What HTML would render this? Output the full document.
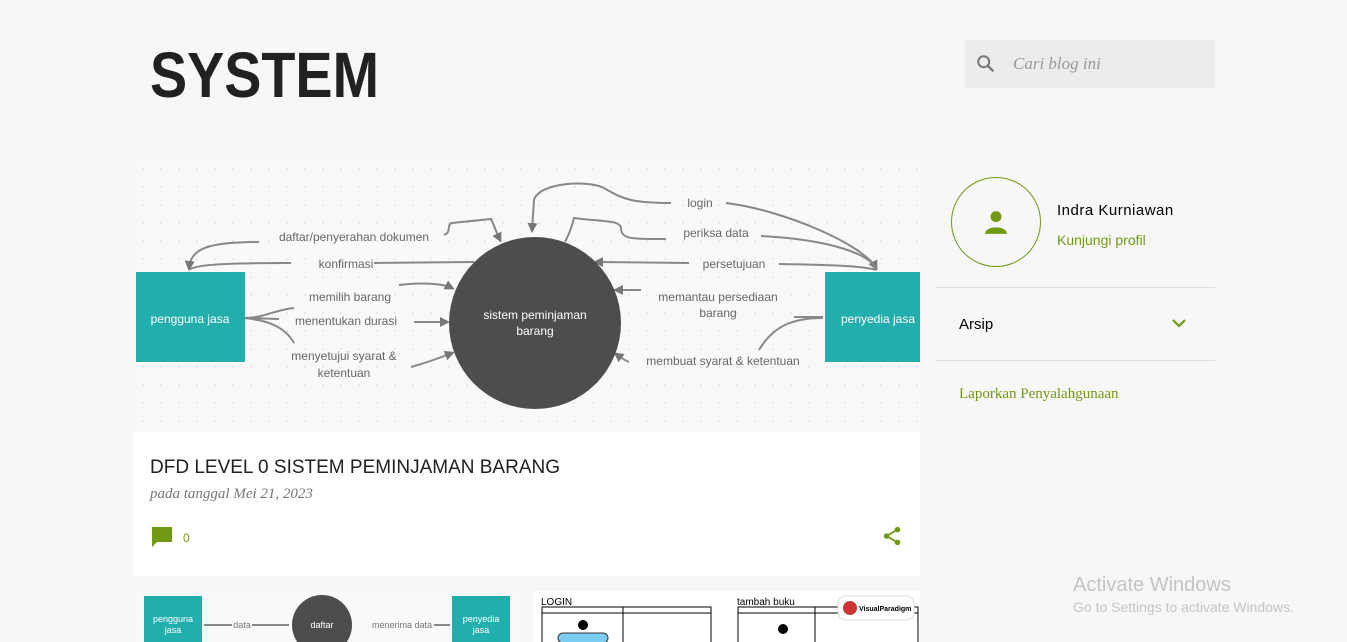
<!DOCTYPE html>
<html><head><meta charset="utf-8"><style>
*{margin:0;padding:0;box-sizing:border-box}
body{width:1347px;height:642px;overflow:hidden;background:#f7f7f7;font-family:"Liberation Sans",sans-serif;position:relative}
.abs{position:absolute}
</style></head><body>
<div class="abs" style="left:150px;top:38px;font-size:64px;font-weight:bold;color:#212121;transform:scaleX(0.87);transform-origin:left top">SYSTEM</div>
<div class="abs" style="left:965px;top:40px;width:250px;height:48px;background:#ececec"></div>
<svg class="abs" style="left:975px;top:53px" width="22" height="22" viewBox="0 0 24 24"><circle cx="9.5" cy="9.5" r="6" fill="none" stroke="#777" stroke-width="2.2"/><line x1="14" y1="14" x2="20" y2="20" stroke="#777" stroke-width="2.6"/></svg>
<div class="abs" style="left:1013px;top:54px;font-family:'Liberation Serif',serif;font-style:italic;font-size:17px;color:#999">Cari blog ini</div>

<div class="abs" style="left:134px;top:160px;width:786px;height:416px;background:#fff"></div>
<svg class="abs" style="left:134px;top:160px" width="786" height="272" viewBox="0 0 786 272" font-family="Liberation Sans, sans-serif">
<defs><pattern id="d" width="18" height="18" patternUnits="userSpaceOnUse"><circle cx="9" cy="9" r="0.9" fill="#ddd"/></pattern>
<marker id="a" markerWidth="10" markerHeight="10" refX="7" refY="5" orient="auto" markerUnits="userSpaceOnUse"><path d="M0,0 L10,5 L0,10z" fill="#777"/></marker></defs>
<rect width="786" height="272" fill="#f9f9fb"/><rect width="786" height="272" fill="url(#d)"/>
<g fill="none" stroke="#888" stroke-width="2">
<path d="M125,82 C75,82 57,88 55,108" marker-end="url(#a)"/>
<path d="M157,103 C100,103 60,104 55,110"/>
<path d="M240,103 L340,102"/>
<path d="M310,75 C318,72 312,65 318,63 L357,59 C360,65 362,72 366,80" marker-end="url(#a)"/>
<path d="M537,43 C500,43 490,40 470,28 C455,20 405,22 400,40 L398,70" marker-end="url(#a)"/>
<path d="M592,43 C650,50 730,85 742,108" marker-end="url(#a)"/>
<path d="M532,79 C500,79 487,80 487,68 C486,60 470,62 440,58 C437,70 434,76 431,82"/>
<path d="M627,76 C700,80 735,95 742,108"/>
<path d="M555,103 L462,102" marker-end="url(#a)"/>
<path d="M645,104 C700,105 730,106 742,110"/>
<path d="M265,125 C290,122 310,124 318,128" marker-end="url(#a)"/>
<path d="M280,162 L313,162" marker-end="url(#a)"/>
<path d="M277,207 C295,202 308,197 318,193" marker-end="url(#a)"/>
<path d="M110,158 C130,158 140,150 160,148"/>
<path d="M110,158 C130,160 150,165 160,183"/>
<path d="M110,158 L145,159"/>
<path d="M507,130 L482,130" marker-end="url(#a)"/>
<path d="M495,202 C490,200 486,197 482,194" marker-end="url(#a)"/>
<path d="M689,158 C660,158 640,165 625,190"/>
<path d="M689,157 L660,157"/>
</g>
<rect x="2" y="112" width="109" height="90" fill="#22aead"/>
<rect x="691" y="112" width="95" height="90" fill="#22aead"/>
<ellipse cx="401" cy="163" rx="86" ry="86" fill="#4d4d4d"/>
<g fill="#fff" font-size="12" text-anchor="middle"><text x="56" y="163">pengguna jasa</text><text x="744" y="163">penyedia jasa</text>
<text x="401" y="159">sistem peminjaman</text><text x="401" y="175">barang</text></g>
<g fill="#666" font-size="12" text-anchor="middle">
<text x="220" y="81">daftar/penyerahan dokumen</text><text x="212" y="108">konfirmasi</text>
<text x="566" y="47">login</text><text x="582" y="77">periksa data</text><text x="600" y="108">persetujuan</text>
<text x="216" y="141">memilih barang</text><text x="212" y="165">menentukan durasi</text>
<text x="210" y="200">menyetujui syarat &amp;</text><text x="210" y="217">ketentuan</text>
<text x="584" y="141">memantau persediaan</text><text x="584" y="157">barang</text>
<text x="589" y="205">membuat syarat &amp; ketentuan</text></g>
</svg>
<div class="abs" style="left:150px;top:457px;font-size:19px;color:#212121">DFD LEVEL 0 SISTEM PEMINJAMAN BARANG</div>
<div class="abs" style="left:150px;top:486px;font-family:'Liberation Serif',serif;font-style:italic;font-size:15px;color:#777">pada tanggal Mei 21, 2023</div>
<svg class="abs" style="left:151px;top:526px" width="24" height="24" viewBox="0 0 24 24"><path d="M1,1 H21 V16 H6 L1,21z" fill="#6f9a12"/></svg>
<div class="abs" style="left:183px;top:531px;font-size:12px;color:#6f9a12">0</div>
<svg class="abs" style="left:881px;top:525px" width="22" height="22" viewBox="0 0 24 24"><g fill="#6f9a12"><circle cx="18" cy="5" r="3"/><circle cx="6" cy="12" r="3"/><circle cx="18" cy="19" r="3"/></g><path d="M6,12 L18,5 M6,12 L18,19" stroke="#6f9a12" stroke-width="2"/></svg>

<svg class="abs" style="left:134px;top:591px" width="385" height="51" font-family="Liberation Sans, sans-serif">
<rect width="385" height="51" fill="#f9f9fb"/>
<rect x="10" y="5" width="58" height="46" fill="#22aead"/><rect x="318" y="5" width="58" height="46" fill="#22aead"/>
<circle cx="188" cy="34" r="30" fill="#4d4d4d"/>
<path d="M70,34 H98 M118,34 H155 M300,34 H316" stroke="#888" stroke-width="2"/>
<g font-size="9" text-anchor="middle"><text x="39" y="31" fill="#fff">pengguna</text><text x="39" y="42" fill="#fff">jasa</text><text x="347" y="31" fill="#fff">penyedia</text><text x="347" y="42" fill="#fff">jasa</text><text x="188" y="37" fill="#fff">daftar</text><text x="108" y="37" fill="#777">data</text><text x="268" y="37" fill="#777">menerima data</text></g></svg>
<svg class="abs" style="left:534px;top:591px" width="386" height="51" font-family="Liberation Sans, sans-serif">
<rect width="386" height="51" fill="#fff"/>
<text x="7" y="14" font-size="10">LOGIN</text><text x="203" y="14" font-size="10">tambah buku</text>
<rect x="8" y="16" width="169" height="40" fill="none" stroke="#000"/><line x1="89" y1="16" x2="89" y2="51" stroke="#000"/><line x1="8" y1="22" x2="177" y2="22" stroke="#000"/>
<rect x="204" y="16" width="180" height="40" fill="none" stroke="#000"/><line x1="281" y1="16" x2="281" y2="51" stroke="#000"/><line x1="204" y1="22" x2="384" y2="22" stroke="#000"/>
<circle cx="49" cy="34" r="5"/><rect x="24" y="42" width="50" height="10" rx="5" fill="#7ccdf2" stroke="#333"/>
<circle cx="249" cy="38" r="5"/>
<rect x="304" y="5" width="76" height="24" rx="8" fill="#fff" stroke="#ddd"/><circle cx="316" cy="17" r="7" fill="#c33"/><text x="325" y="20" font-size="7" font-weight="bold">VisualParadigm</text></svg>

<div class="abs" style="left:951px;top:177px;width:90px;height:90px;border:1px solid #6f9a12;border-radius:50%"></div>
<svg class="abs" style="left:983px;top:209px" width="26" height="26" viewBox="0 0 24 24"><circle cx="12" cy="7" r="5" fill="#6f9a12"/><path d="M2,23 C2,15 22,15 22,23z" fill="#6f9a12"/></svg>
<div class="abs" style="left:1057px;top:202px;font-size:15px;color:#000;letter-spacing:0.5px">Indra Kurniawan</div>
<div class="abs" style="left:1057px;top:232px;font-size:14px;color:#6f9a12">Kunjungi profil</div>
<div class="abs" style="left:935px;top:287px;width:280px;height:1px;background:#ddd"></div>
<div class="abs" style="left:959px;top:316px;font-size:15px;color:#000">Arsip</div>
<svg class="abs" style="left:1171px;top:318px" width="16" height="12"><path d="M2,2 L8,8 L14,2" fill="none" stroke="#6f9a12" stroke-width="2.2"/></svg>
<div class="abs" style="left:935px;top:360px;width:280px;height:1px;background:#ddd"></div>
<div class="abs" style="left:959px;top:386px;font-family:'Liberation Serif',serif;font-size:15px;color:#6f9a12">Laporkan Penyalahgunaan</div>
<div class="abs" style="left:1073px;top:574px;font-size:20px;color:#c4c4c4">Activate Windows</div>
<div class="abs" style="left:1073px;top:599px;font-size:14px;color:#c4c4c4">Go to Settings to activate Windows.</div>
</body></html>
